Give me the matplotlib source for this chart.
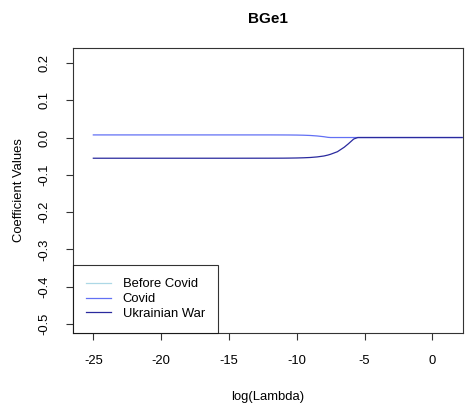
import matplotlib
matplotlib.use("Agg")
import matplotlib.pyplot as plt

plt.rcParams["font.family"] = ["Liberation Sans", "DejaVu Sans"]

# coefficient paths against log(lambda)
log_lambda = [-25, -20, -15, -12, -11, -10.5, -10, -9.5, -9, -8.5, -8, -7.7,
              -7.5, -7, -6.5, -6.2, -6, -5.8, -5.5, -5, -2, 0, 2.2]
# the "Before Covid" path is not visible in the reference (hidden under the others)
before_covid = [float("nan")] * len(log_lambda)
covid = [0.007, 0.007, 0.007, 0.007, 0.0069, 0.0068, 0.0066, 0.0062, 0.0055,
         0.0042, 0.0022, 0.0005, 0.0, 0.0, 0.0, 0.0, 0.0, 0.0, 0.0, 0.0, 0.0, 0.0, 0.0]
ukraine = [-0.0555, -0.0555, -0.0555, -0.0554, -0.0553, -0.0551, -0.0548, -0.0543,
           -0.0535, -0.052, -0.0495, -0.047, -0.0448, -0.038, -0.026, -0.017,
           -0.0105, -0.004, 0.0, 0.0, 0.0, 0.0, 0.0]

series_names = ["Before Covid", "Covid", "Ukrainian War"]
series_colors = ["#add8e6", "#6270f4", "#2a2a9e"]
x_ticks = [-25, -20, -15, -10, -5, 0]
y_ticks = [0.2, 0.1, 0.0, -0.1, -0.2, -0.3, -0.4, -0.5]

fig = plt.figure(figsize=(4.75, 4.07), dpi=100)
ax = fig.add_axes([73 / 475, 1 - 333 / 407, 390 / 475, 285 / 407])

for ys, name, col in zip([before_covid, covid, ukraine], series_names, series_colors):
    ax.plot(log_lambda, ys, color=col, lw=0.9, label=name)

ax.set_xlim(-26.5, 2.26)
ax.set_ylim(-0.524, 0.24)
ax.set_xticks(x_ticks)
ax.set_xticklabels([f"{t:g}" for t in x_ticks])
ax.set_yticks(y_ticks)
ax.set_yticklabels([f"{t:.1f}" for t in y_ticks], rotation=90, va="center")

for sp in ax.spines.values():
    sp.set_color("#333333")
    sp.set_linewidth(0.8)
ax.tick_params(direction="out", length=5, width=0.8, color="#333333",
               labelsize=9.4, pad=11)

ax.set_xlabel("log(Lambda)", fontsize=9.4, labelpad=17)
ax.set_ylabel("Coefficient Values", fontsize=9.4, labelpad=10)
ax.set_title("BGe1", fontsize=11, fontweight="bold", pad=18)

leg = ax.legend(loc="lower left", bbox_to_anchor=(0, 0), borderaxespad=0,
                fontsize=9.4, fancybox=False, edgecolor="black",
                handlelength=1.9, handletextpad=0.9, labelspacing=0.2,
                borderpad=1.0)
leg.get_frame().set_linewidth(0.8)

fig.savefig("out.png", dpi=100)
